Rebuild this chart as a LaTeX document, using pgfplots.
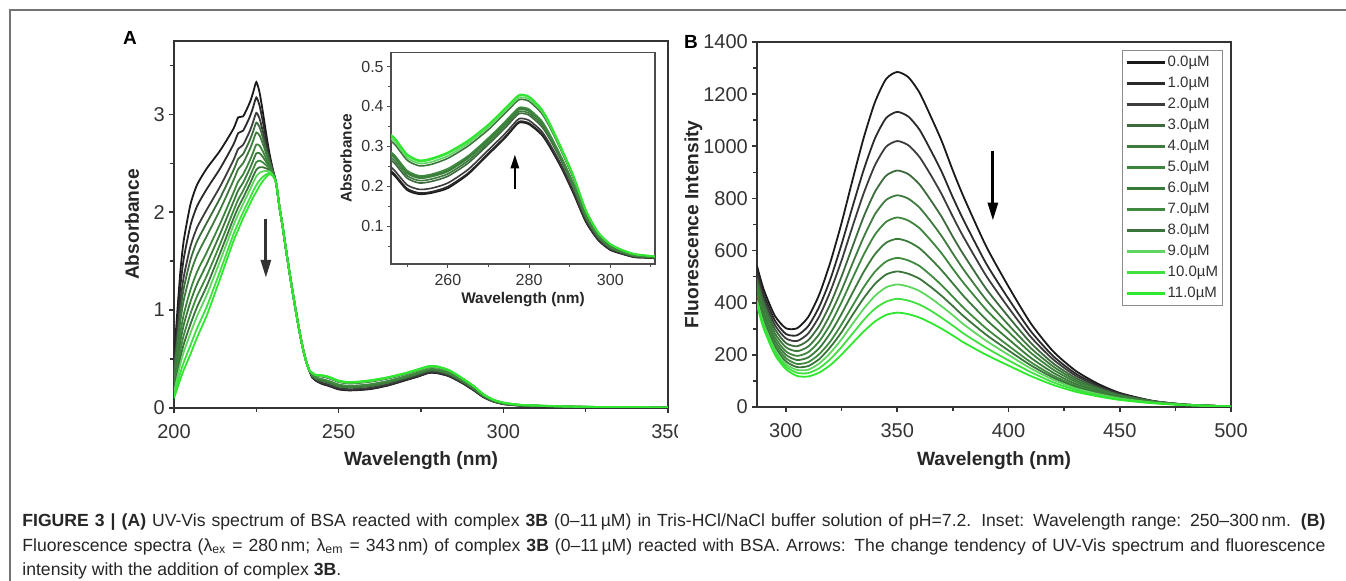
\documentclass[border=0pt]{standalone}
\usepackage{pgfplots}
\pgfplotsset{compat=1.18}
\usepackage{pgfplotstable}
\usetikzlibrary{arrows.meta}
\usepackage{fontspec}
\setmainfont{Liberation Sans}

\definecolor{c0}{HTML}{1A1A1A}
\definecolor{c1}{HTML}{2A2A2A}
\definecolor{c2}{HTML}{3C3C3C}
\definecolor{c3}{HTML}{3D6B3D}
\definecolor{c4}{HTML}{3F7A3F}
\definecolor{c5}{HTML}{3D853D}
\definecolor{c6}{HTML}{3A7A3A}
\definecolor{c7}{HTML}{3F8A3F}
\definecolor{c8}{HTML}{3B743B}
\definecolor{c9}{HTML}{5FD65F}
\definecolor{c10}{HTML}{3FE03F}
\definecolor{c11}{HTML}{2EE82E}
\definecolor{axisgray}{HTML}{333333}

% UV-Vis absorbance, 0-11 uM (columns c0..c11)
\pgfplotstableread{
x c0 c1 c2 c3 c4 c5 c6 c7 c8 c9 c10 c11
200 0.50 0.444 0.388 0.352 0.316 0.272 0.24 0.208 0.18 0.156 0.124 0.10
201 0.98 0.871 0.762 0.691 0.621 0.535 0.473 0.411 0.356 0.309 0.247 0.20
202 1.42 1.263 1.106 1.006 0.905 0.782 0.692 0.602 0.524 0.457 0.367 0.30
203 1.72 1.534 1.348 1.228 1.108 0.962 0.855 0.749 0.656 0.576 0.470 0.39
205 2.08 1.866 1.652 1.514 1.376 1.208 1.086 0.963 0.856 0.764 0.642 0.55
207 2.28 2.062 1.843 1.703 1.562 1.391 1.266 1.141 1.032 0.938 0.814 0.72
210 2.45 2.24 2.03 1.895 1.76 1.595 1.475 1.355 1.25 1.16 1.04 0.95
214 2.63 2.447 2.263 2.145 2.027 1.883 1.779 1.674 1.582 1.503 1.399 1.32
218 2.85 2.689 2.528 2.425 2.321 2.195 2.103 2.01 1.93 1.861 1.769 1.70
219.5 2.97 2.809 2.648 2.545 2.441 2.315 2.223 2.13 2.05 1.981 1.889 1.82
221 2.98 2.834 2.689 2.595 2.502 2.387 2.304 2.221 2.148 2.086 2.002 1.94
223 3.12 2.974 2.829 2.735 2.642 2.527 2.444 2.361 2.288 2.226 2.142 2.08
224 3.22 3.07 2.92 2.824 2.728 2.61 2.525 2.439 2.364 2.30 2.214 2.15
225 3.33 3.173 3.016 2.916 2.815 2.692 2.602 2.512 2.434 2.367 2.277 2.21
226 3.22 3.087 2.954 2.869 2.783 2.679 2.603 2.527 2.46 2.403 2.327 2.27
227 3.02 2.922 2.824 2.761 2.698 2.621 2.565 2.509 2.46 2.418 2.362 2.32
228 2.80 2.738 2.677 2.637 2.598 2.549 2.514 2.479 2.448 2.422 2.386 2.36
229 2.60 2.571 2.541 2.522 2.503 2.48 2.463 2.447 2.432 2.419 2.403 2.39
230 2.44 2.43 2.42 2.414 2.408 2.40 2.395 2.389 2.384 2.38 2.374 2.37
231 2.30 2.30 2.30 2.30 2.30 2.30 2.30 2.30 2.30 2.30 2.30 2.30
232 2.06 2.06 2.06 2.06 2.06 2.06 2.06 2.06 2.06 2.06 2.06 2.06
233 1.85 1.85 1.85 1.85 1.85 1.85 1.85 1.85 1.85 1.85 1.85 1.85
234 1.62 1.62 1.62 1.62 1.62 1.62 1.62 1.62 1.62 1.62 1.62 1.62
235 1.40 1.40 1.40 1.40 1.40 1.40 1.40 1.40 1.40 1.40 1.40 1.40
236 1.19 1.19 1.19 1.19 1.19 1.19 1.19 1.19 1.19 1.19 1.19 1.19
237 0.99 0.99 0.99 0.99 0.99 0.99 0.99 0.99 0.99 0.99 0.99 0.99
238 0.80 0.80 0.80 0.80 0.80 0.80 0.80 0.80 0.80 0.80 0.80 0.80
239 0.63 0.63 0.63 0.63 0.63 0.63 0.63 0.63 0.63 0.63 0.63 0.63
240 0.49 0.49 0.49 0.49 0.49 0.49 0.49 0.49 0.49 0.49 0.49 0.49
241 0.39 0.39 0.39 0.39 0.39 0.39 0.39 0.39 0.39 0.39 0.39 0.39
242 0.31 0.312 0.317 0.327 0.33 0.334 0.335 0.337 0.352 0.355 0.359 0.36
243 0.28 0.282 0.288 0.30 0.304 0.308 0.31 0.312 0.33 0.334 0.338 0.34
245 0.245 0.249 0.258 0.275 0.281 0.287 0.29 0.294 0.32 0.326 0.332 0.335
247 0.225 0.229 0.238 0.256 0.263 0.27 0.273 0.276 0.304 0.311 0.317 0.32
250 0.19 0.194 0.203 0.22 0.226 0.232 0.235 0.239 0.265 0.271 0.277 0.28
253 0.18 0.183 0.192 0.208 0.214 0.22 0.223 0.226 0.251 0.257 0.262 0.265
256 0.183 0.186 0.195 0.212 0.218 0.224 0.227 0.23 0.255 0.261 0.267 0.27
260 0.195 0.199 0.208 0.225 0.231 0.237 0.24 0.244 0.27 0.276 0.282 0.285
265 0.23 0.233 0.242 0.258 0.264 0.27 0.273 0.276 0.301 0.307 0.312 0.315
270 0.28 0.283 0.291 0.305 0.31 0.315 0.318 0.321 0.342 0.348 0.353 0.355
274 0.32 0.323 0.331 0.345 0.35 0.355 0.358 0.361 0.382 0.388 0.393 0.395
277 0.355 0.358 0.365 0.378 0.383 0.388 0.39 0.393 0.413 0.418 0.423 0.425
278 0.36 0.363 0.37 0.383 0.388 0.393 0.395 0.398 0.418 0.423 0.428 0.43
280 0.355 0.358 0.365 0.378 0.383 0.388 0.39 0.393 0.413 0.418 0.423 0.425
283 0.33 0.333 0.339 0.351 0.356 0.361 0.363 0.365 0.384 0.389 0.393 0.395
285 0.30 0.302 0.308 0.32 0.324 0.328 0.33 0.332 0.35 0.354 0.358 0.36
288 0.245 0.247 0.252 0.262 0.265 0.269 0.27 0.272 0.287 0.29 0.294 0.295
291 0.18 0.182 0.186 0.195 0.198 0.201 0.203 0.204 0.217 0.221 0.224 0.225
294 0.11 0.111 0.114 0.12 0.122 0.124 0.125 0.126 0.135 0.137 0.139 0.14
297 0.065 0.066 0.068 0.072 0.073 0.074 0.075 0.076 0.082 0.083 0.084 0.085
300 0.04 0.041 0.042 0.045 0.046 0.047 0.048 0.048 0.052 0.054 0.055 0.055
303 0.03 0.03 0.031 0.033 0.034 0.035 0.035 0.035 0.038 0.039 0.04 0.04
306 0.022 0.022 0.023 0.025 0.025 0.026 0.026 0.026 0.029 0.029 0.03 0.03
310 0.02 0.02 0.021 0.022 0.022 0.022 0.023 0.023 0.024 0.025 0.025 0.025
320 0.012 0.012 0.012 0.013 0.013 0.013 0.014 0.014 0.014 0.015 0.015 0.015
335 0.006 0.006 0.006 0.007 0.007 0.007 0.007 0.007 0.008 0.008 0.008 0.008
350 0.004 0.004 0.004 0.004 0.005 0.005 0.005 0.005 0.005 0.005 0.005 0.005
}\tabA

% fluorescence intensity, 0-11 uM
\pgfplotstableread{
x c0 c1 c2 c3 c4 c5 c6 c7 c8 c9 c10 c11
287 541 524 507 490 473 457 441 429 419 408 399 390
290 451 433 417 401 384 369 354 342 331 319 311 301
295 350 332 315 299 283 268 254 242 231 221 211 201
300 302 280 263 245 229 213 200 187 175 164 155 145
305 302 275 253 233 214 196 180 165 153 142 131 119
310 345 310 282 256 232 210 190 172 157 143 130 117
315 432 385 348 312 280 252 226 203 184 167 149 132
320 556 491 444 396 356 318 284 252 230 208 184 161
325 706 624 562 501 448 402 357 317 287 260 230 201
330 873 770 694 617 552 495 439 389 354 320 282 246
335 1034 911 821 731 653 585 519 460 418 377 334 290
340 1169 1030 927 825 739 661 586 519 472 426 377 328
345 1258 1108 998 887 794 710 630 558 508 459 404 353
350 1285 1132 1020 907 812 727 645 572 520 470 415 362
355 1265 1114 1004 893 799 715 634 562 511 462 408 356
360 1206 1064 959 854 765 686 609 541 492 445 393 343
365 1116 986 891 794 713 640 569 506 461 418 370 323
370 1020 902 816 729 655 589 524 467 426 386 342 300
375 907 804 730 653 589 530 474 423 387 352 312 274
380 803 714 649 582 525 474 424 379 347 316 281 247
390 616 550 503 453 411 373 335 301 277 254 227 200
400 462 415 381 346 315 288 260 235 217 200 179 159
410 321 291 269 246 226 208 189 172 160 148 134 119
420 214 196 183 168 156 144 132 121 113 105 95 85
430 140 129 121 112 104 97 89 82 77 72 66 59
440 90 84 79 74 70 65 60 56 53 50 45 41
450 54 51 49 46 44 42 39 36 35 33 30 27
465 23 23 22 22 21 20 19 18 18 17 16 14
480 8 9 9 9 9 9 8 8 8 8 7 7
500 2 2 2 2 2 2 2 2 2 2 2 2
}\tabB

\tikzset{lab/.style={font=\bfseries\fontsize{9.6}{11}\selectfont, text=black!85}}

\pgfplotsset{
  panel/.style={
    scale only axis,
    axis line style={draw=axisgray, line width=0.9pt},
    tick style={draw=axisgray, line width=0.8pt},
    tick align=outside,
    major tick length=2.6pt,
    minor tick length=1.8pt,
    xtick pos=bottom, ytick pos=left,
    ticklabel style={font=\fontsize{10}{12}\selectfont, text=axisgray},
    xticklabel style={yshift=-2.2pt},
    yticklabel style={inner sep=1.8pt},
    /pgf/number format/assume math mode=true,
    /pgf/number format/1000 sep={},
    every axis plot/.append style={line width=0.9pt, smooth, tension=0.4},
  },
}

\begin{document}
\begin{tikzpicture}[x=1pt,y=1pt]
\path[use as bounding box] (0,0) rectangle (673,290.5);
\draw[black!55, line width=0.75pt] (5,0) -- (5,285.5) -- (673,285.5);

\node[font=\bfseries\fontsize{9.5}{11}\selectfont] at (65,271.5) {A};
\node[font=\bfseries\fontsize{9.5}{11}\selectfont] at (345.5,269.5) {B};

% panel A
\begin{axis}[panel,
  at={(87pt,86.5pt)}, anchor=south west,
  width=247pt, height=183.5pt,
  xmin=200, xmax=350, ymin=0, ymax=3.75,
  xtick={200,250,300,350}, minor xtick={225,275,325},
  ytick={0,1,2,3}, minor ytick={0.5,1.5,2.5,3.5},
  xlabel={Wavelength (nm)}, ylabel={Absorbance},
  every axis x label/.style={lab, at={(axis description cs:0.5,-0.144)}, anchor=center},
  every axis y label/.style={lab, at={(axis description cs:-0.085,0.5)}, rotate=90, anchor=center},
]
\pgfplotsinvokeforeach{0,...,11}{\addplot[color=c#1] table[x=x, y=c#1] {\tabA};}
\draw[axisgray, line width=1.5pt, -{Triangle[length=9pt,width=5pt]}] (axis cs:227.9,1.93) -- (axis cs:227.9,1.33);
\end{axis}

% inset of panel A
\begin{axis}[panel,
  at={(195.5pt,158.5pt)}, anchor=south west,
  width=132pt, height=105.7pt,
  axis background/.style={fill=white},
  axis line style={draw=black!70, line width=0.6pt},
  tick style={draw=black!70, line width=0.5pt},
  major tick length=2pt, minor tick length=1.4pt,
  xmin=246, xmax=311, ymin=0.005, ymax=0.535,
  xtick={260,280,300}, minor xtick={250,270,290,310},
  ytick={0.1,0.2,0.3,0.4,0.5}, minor ytick={0.05,0.15,0.25,0.35,0.45},
  ticklabel style={font=\fontsize{8}{9}\selectfont},
  xticklabel style={yshift=0pt, inner sep=1pt},
  yticklabel style={inner sep=1.5pt},
  xlabel={Wavelength (nm)}, ylabel={Absorbance},
  every axis x label/.style={font=\bfseries\fontsize{7.7}{9}\selectfont, text=black!85, at={(axis description cs:0.5,-0.17)}, anchor=center},
  every axis y label/.style={font=\bfseries\fontsize{7.7}{9}\selectfont, text=black!85, at={(axis description cs:-0.17,0.5)}, rotate=90, anchor=center},
  every axis plot/.append style={line width=0.8pt},
]
\pgfplotsinvokeforeach{0,...,11}{\addplot[color=c#1] table[x=x, y=c#1] {\tabA};}
\draw[black, line width=1.3pt, -{Triangle[length=7pt,width=4pt]}] (axis cs:276.5,0.194) -- (axis cs:276.5,0.28);
\end{axis}

% hide the cut-off 350 label as in the original
\fill[white] (339,60) rectangle (368,84);

% panel B
\begin{axis}[panel,
  at={(378.5pt,87pt)}, anchor=south west,
  width=237pt, height=182.5pt,
  xmin=287, xmax=500, ymin=0, ymax=1400,
  xtick={300,350,400,450,500}, minor xtick={325,375,425,475},
  ytick={0,200,...,1400}, minor ytick={100,300,...,1300},
  xlabel={Wavelength (nm)}, ylabel={Fluorescence Intensity},
  every axis x label/.style={lab, at={(axis description cs:0.5,-0.148)}, anchor=center},
  every axis y label/.style={lab, at={(axis description cs:-0.134,0.5)}, rotate=90, anchor=center},
  legend style={at={(axis description cs:0.983,0.978)}, anchor=north east,
    draw=black!45, line width=0.5pt, fill=white,
    font=\fontsize{7.5}{9}\selectfont, text=axisgray,
    inner sep=1.2pt, row sep=0.9pt,
    nodes={inner sep=1pt, text height=6pt, text depth=1.6pt}},
  legend cell align=left,
  legend image code/.code={\draw[#1, line width=1.2pt] (0pt,0pt) -- (19pt,0pt);},
  legend entries={0.0µM,1.0µM,2.0µM,3.0µM,4.0µM,5.0µM,6.0µM,7.0µM,8.0µM,9.0µM,10.0µM,11.0µM},
]
\pgfplotsinvokeforeach{0,...,11}{\addplot[color=c#1] table[x=x, y=c#1] {\tabB};}
\draw[black, line width=1.5pt, -{Triangle[length=9pt,width=5pt]}] (axis cs:393,980) -- (axis cs:393,715);
\end{axis}

% caption
\begin{scope}[every node/.style={anchor=base west, inner sep=0pt, text=black!85, font=\fontsize{8.8}{10}\selectfont}]
\node at (11,27) {\makebox[651.5pt][s]{\textbf{FIGURE 3 | (A)} UV-Vis spectrum of BSA reacted with complex \textbf{3B} (0–11\,µM) in Tris-HCl/NaCl buffer solution of pH=7.2. Inset: Wavelength range: 250–300\,nm. \textbf{(B)}}};
\node at (11,14.5) {\makebox[651.5pt][s]{Fluorescence spectra (λ\textsubscript{ex} = 280\,nm; λ\textsubscript{em} = 343\,nm) of complex \textbf{3B} (0–11\,µM) reacted with BSA. Arrows: The change tendency of UV-Vis spectrum and fluorescence}};
\node at (11,2.5) {intensity with the addition of complex \textbf{3B}.};
\end{scope}
\end{tikzpicture}
\end{document}
